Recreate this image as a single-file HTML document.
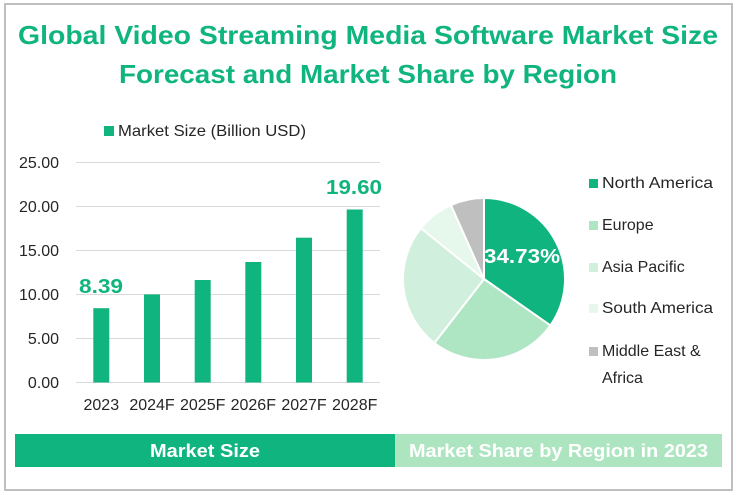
<!DOCTYPE html>
<html><head><meta charset="utf-8"><style>
html,body{margin:0;padding:0;background:#fff;}
svg{display:block;}
text{font-family:"Liberation Sans",Arial,sans-serif;}
</style></head><body>
<svg width="737" height="495" viewBox="0 0 737 495" xmlns="http://www.w3.org/2000/svg">
<rect x="0" y="0" width="737" height="495" fill="#fff"/>
<rect x="5" y="4" width="727" height="486" fill="none" stroke="#bfbfbf" stroke-width="2"/>
<!-- title -->
<text x="18" y="44" font-size="26" font-weight="bold" fill="#10B47F" textLength="700" lengthAdjust="spacingAndGlyphs">Global Video Streaming Media Software Market Size</text>
<text x="119" y="83" font-size="26" font-weight="bold" fill="#10B47F" textLength="498" lengthAdjust="spacingAndGlyphs">Forecast and Market Share by Region</text>
<!-- bar legend -->
<rect x="104" y="126" width="10" height="10" fill="#10B47F"/>
<text x="118" y="136" font-size="16" fill="#262626" textLength="188" lengthAdjust="spacingAndGlyphs">Market Size (Billion USD)</text>
<!-- gridlines -->
<g stroke="#d9d9d9" stroke-width="1">
<line x1="76" y1="162.5" x2="380" y2="162.5"/>
<line x1="76" y1="206.5" x2="380" y2="206.5"/>
<line x1="76" y1="250.5" x2="380" y2="250.5"/>
<line x1="76" y1="294.5" x2="380" y2="294.5"/>
<line x1="76" y1="338.5" x2="380" y2="338.5"/>
<line x1="76" y1="382.5" x2="380" y2="382.5"/>
</g>
<g font-size="16" fill="#262626" text-anchor="end">
<text x="59" y="168">25.00</text>
<text x="59" y="212">20.00</text>
<text x="59" y="256">15.00</text>
<text x="59" y="300">10.00</text>
<text x="59" y="344">5.00</text>
<text x="59" y="388">0.00</text>
</g>
<!-- bars -->
<g fill="#10B47F">
<rect x="93.3" y="308.2" width="16" height="74.3"/>
<rect x="144" y="294.4" width="16" height="88.1"/>
<rect x="194.7" y="280" width="16" height="102.5"/>
<rect x="245.3" y="262" width="16" height="120.5"/>
<rect x="296" y="237.7" width="16" height="144.8"/>
<rect x="346.7" y="209.5" width="16" height="173"/>
</g>
<text x="79" y="293" font-size="20" font-weight="bold" fill="#10B47F" textLength="44" lengthAdjust="spacingAndGlyphs">8.39</text>
<text x="326" y="194" font-size="20" font-weight="bold" fill="#10B47F" textLength="56" lengthAdjust="spacingAndGlyphs">19.60</text>
<g font-size="16" fill="#262626" text-anchor="middle">
<text x="101.3" y="410">2023</text>
<text x="152" y="410">2024F</text>
<text x="202.7" y="410">2025F</text>
<text x="253.3" y="410">2026F</text>
<text x="304" y="410">2027F</text>
<text x="354.7" y="410">2028F</text>
</g>
<!-- pie -->
<g stroke="#fff" stroke-width="2" stroke-linejoin="round">
<path d="M484,279 L484,198 A81,81 0 0 1 550.34,325.47 Z" fill="#10B47F"/>
<path d="M484,279 L550.34,325.47 A81,81 0 0 1 434.35,343 Z" fill="#AEE5C3"/>
<path d="M484,279 L434.35,343 A81,81 0 0 1 420.97,228.13 Z" fill="#D1EFDD"/>
<path d="M484,279 L420.97,228.13 A81,81 0 0 1 450.93,205.06 Z" fill="#E6F7EC"/>
<path d="M484,279 L450.93,205.06 A81,81 0 0 1 484,198 Z" fill="#BFBFBF"/>
</g>
<text x="484" y="263" font-size="20" font-weight="bold" fill="#fff" textLength="76" lengthAdjust="spacingAndGlyphs">34.73%</text>
<!-- pie legend -->
<rect x="589" y="179" width="9" height="9" fill="#10B47F"/>
<text x="602" y="188" font-size="16" fill="#262626" textLength="111" lengthAdjust="spacingAndGlyphs">North America</text>
<rect x="589" y="221" width="9" height="9" fill="#AEE5C3"/>
<text x="602" y="230" font-size="16" fill="#262626">Europe</text>
<rect x="589" y="263" width="9" height="9" fill="#D1EFDD"/>
<text x="602" y="272" font-size="16" fill="#262626">Asia Pacific</text>
<rect x="589" y="304" width="9" height="9" fill="#E6F7EC"/>
<text x="602" y="313" font-size="16" fill="#262626" textLength="111" lengthAdjust="spacingAndGlyphs">South America</text>
<rect x="589" y="347" width="9" height="9" fill="#BFBFBF"/>
<text x="602" y="356" font-size="16" fill="#262626">Middle East &amp;</text>
<text x="602" y="383" font-size="16" fill="#262626">Africa</text>
<!-- bottom bars -->
<rect x="15" y="434" width="380" height="33" fill="#10B47F"/>
<rect x="395" y="434" width="327" height="33" fill="#AEE5C1"/>
<text x="205" y="457" font-size="18" font-weight="bold" fill="#fff" text-anchor="middle" textLength="110" lengthAdjust="spacingAndGlyphs">Market Size</text>
<text x="409" y="457" font-size="18" font-weight="bold" fill="#fff" textLength="299" lengthAdjust="spacingAndGlyphs">Market Share by Region in 2023</text>
</svg>
</body></html>
